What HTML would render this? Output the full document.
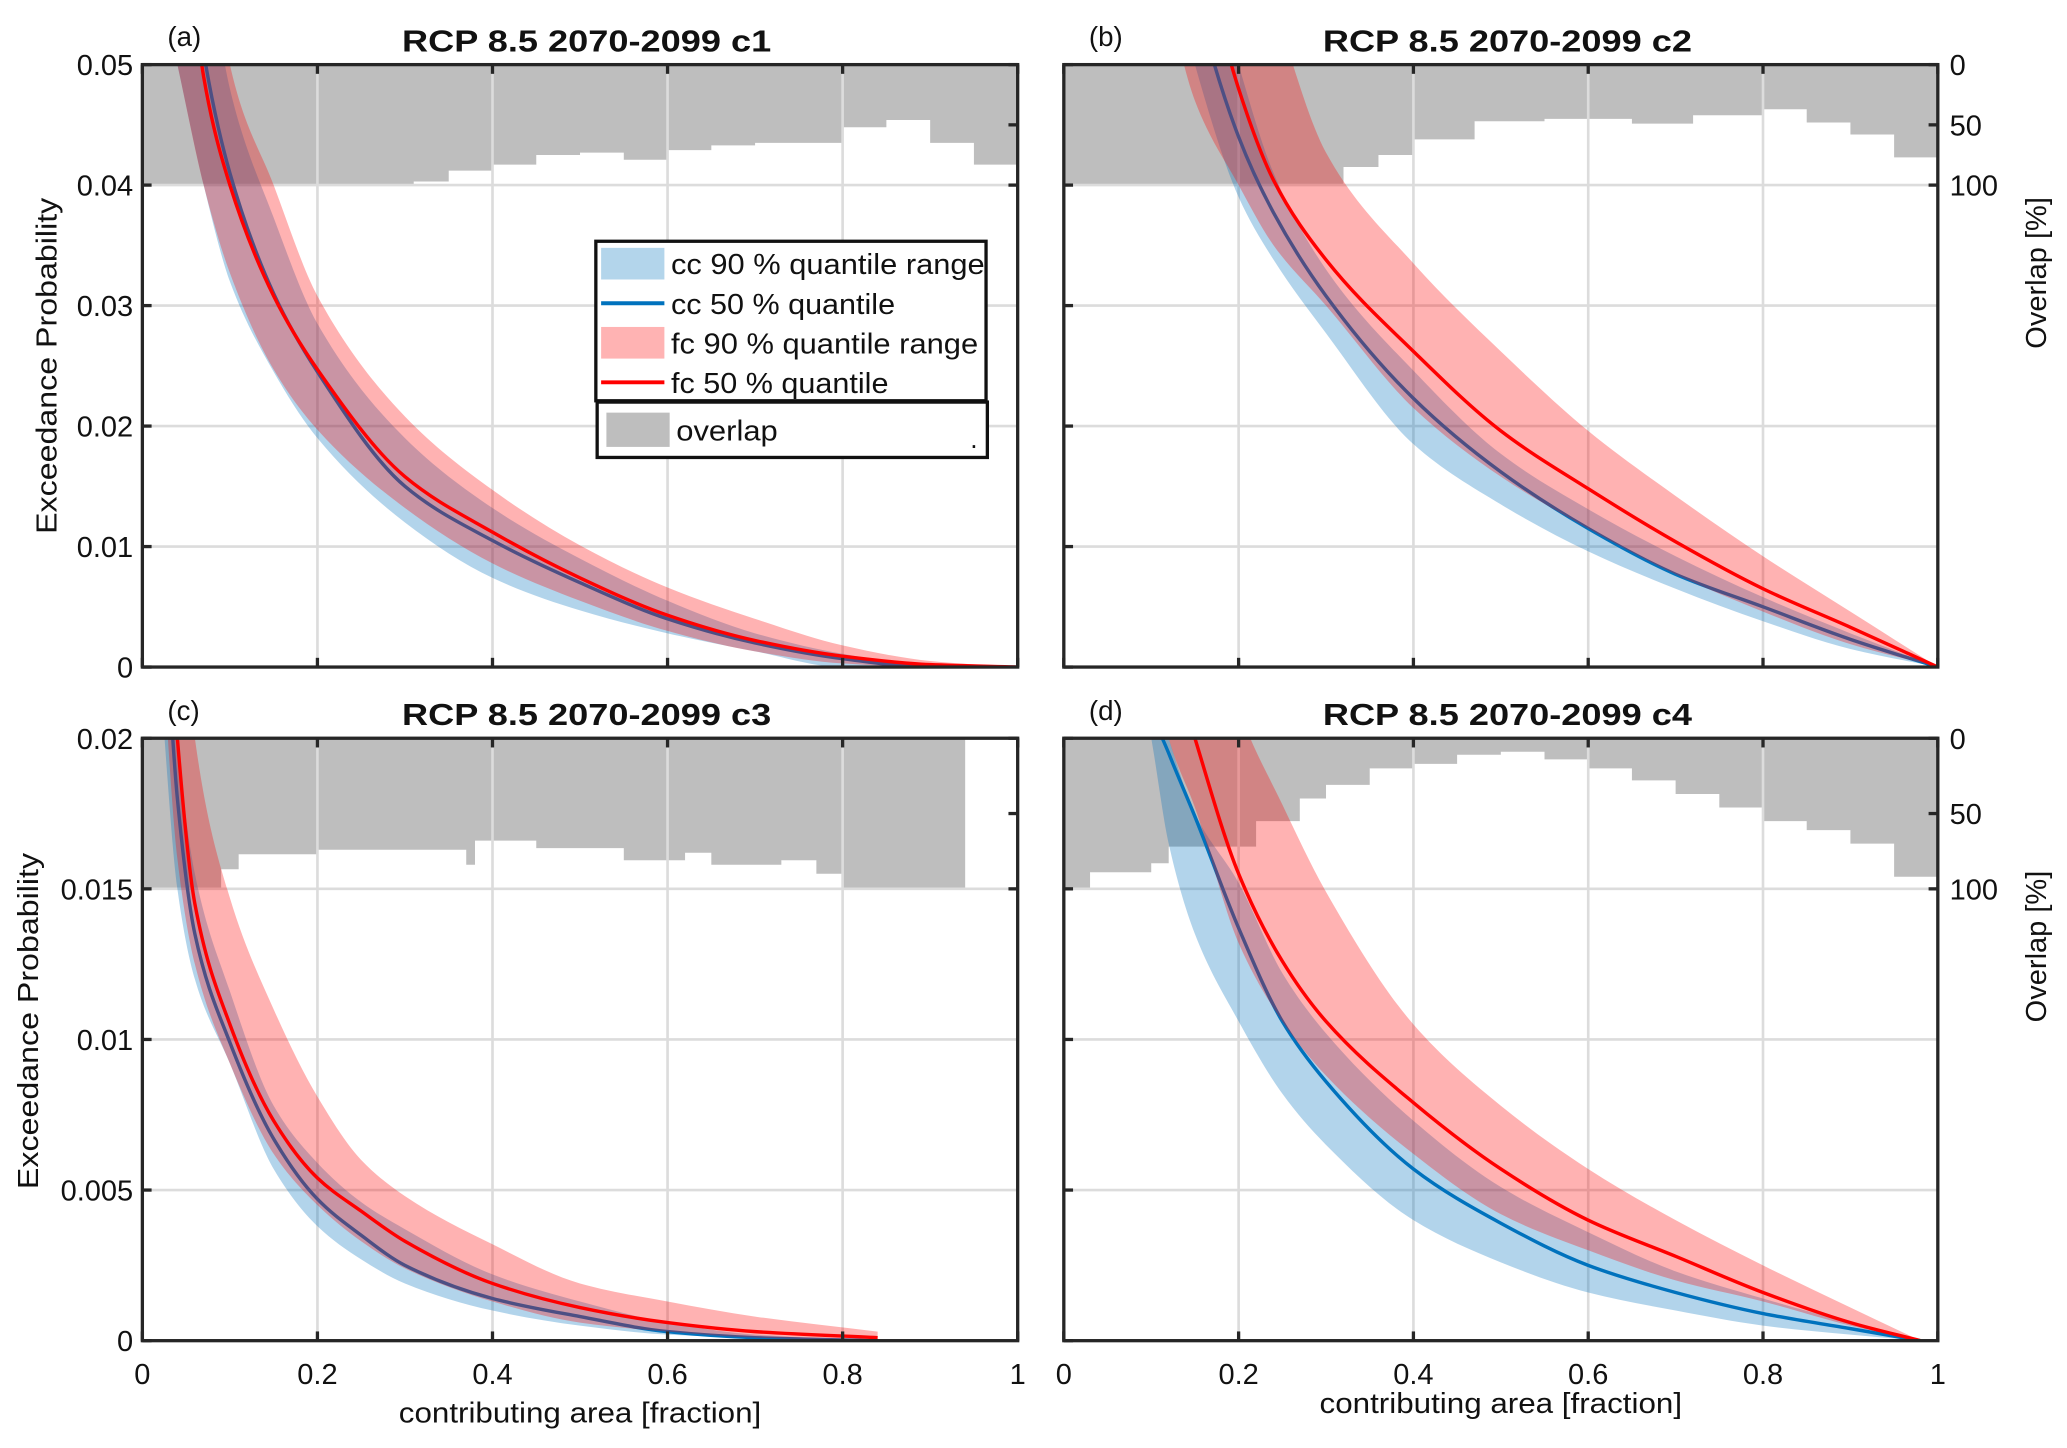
<!DOCTYPE html>
<html><head><meta charset="utf-8">
<style>
html,body{margin:0;padding:0;background:#fff;}
svg{display:block;}
text{font-family:"Liberation Sans",Arial,sans-serif;fill:#111;}
</style></head>
<body>
<svg id="fig" width="2067" height="1448" viewBox="0 0 1568 1098.4" xmlns="http://www.w3.org/2000/svg"></svg>
<script>
// ---------- Panel (a) data ----------
const aX      = [0.04,0.07,0.1,0.15,0.2,0.3,0.4,0.5,0.6,0.7,0.8,0.9,1.0];
const aFcMed  = [0.07,0.049,0.04,0.0308,0.0247,0.0158,0.0112,0.0074,0.0043,0.0022,0.0009,0.0002,0];
const aCcMed  = [0.07,0.051,0.041,0.031,0.0245,0.015,0.0105,0.007,0.004,0.002,0.0007,0,0];
const aFcUp   = [0.09,0.07,0.05,0.04,0.0308,0.0208,0.0147,0.0101,0.0066,0.004,0.0018,0.0005,0];
const aFcLo   = [0.05,0.04,0.0327,0.0247,0.0197,0.0132,0.0086,0.0055,0.003,0.0013,0.0003,0,0];
const aCcUp   = [0.08,0.062,0.048,0.0373,0.0285,0.019,0.0132,0.009,0.0055,0.0028,0.0011,0.0001,0];
const aCcLo   = [0.05,0.04,0.032,0.0245,0.019,0.012,0.0074,0.0047,0.0028,0.0013,0,0,0];
const aOvX    = [0,0.31,0.35,0.4,0.45,0.5,0.55,0.6,0.65,0.7,0.75,0.8,0.85,0.9,0.95,1.0];
const aOvPct  = [100,97,88,83,75,73,79,71,67,65,65,52,46,65,83,100];
// ---------- Panel (b) data ----------
const bX      = [0.1,0.15,0.2,0.24,0.3,0.4,0.5,0.6,0.7,0.8,0.9,1.0];
const bFcMed  = [0.08,0.062,0.048,0.0404,0.0338,0.0262,0.0196,0.0148,0.0104,0.0065,0.0033,0];
const bCcMed  = [0.075,0.056,0.044,0.0377,0.0308,0.0223,0.0162,0.0115,0.0077,0.005,0.0023,0];
const bFcUp   = [0.1,0.08,0.064,0.055,0.0427,0.0335,0.0262,0.0196,0.0142,0.0092,0.0046,0];
const bFcLo   = [0.062,0.047,0.04,0.035,0.03,0.0215,0.0158,0.0115,0.0077,0.0046,0.0019,0];
const bCcUp   = [0.085,0.064,0.05,0.041,0.033,0.0246,0.0177,0.0131,0.0092,0.0058,0.0028,0];
const bCcLo   = [0.065,0.05,0.039,0.0338,0.0277,0.0185,0.0135,0.0096,0.0065,0.0038,0.0015,0];
const bOvX    = [0,0.3,0.32,0.36,0.4,0.47,0.55,0.65,0.72,0.8,0.85,0.9,0.95,1.0];
const bOvPct  = [100,100,85,75,62,47,45,49,42,37,48,58,77,94];
// ---------- Panel (c) data ----------
const cX      = [0.02,0.04,0.06,0.1,0.15,0.2,0.25,0.3,0.4,0.5,0.6,0.7,0.84];
const cFcMed  = [0.03,0.02,0.0145,0.0105,0.0073,0.0054,0.0043,0.0033,0.0019,0.0011,0.0006,0.0003,0.0001];
const cCcMed  = [0.027,0.018,0.0135,0.0099,0.0067,0.0047,0.0035,0.0025,0.0014,0.0008,0.0003,0.0001,0];
const cFcUp   = [0.04,0.028,0.02,0.0147,0.011,0.0081,0.006,0.0048,0.0032,0.0019,0.0013,0.0008,0.0003];
const cFcLo   = [0.024,0.016,0.0125,0.0092,0.0062,0.0045,0.0033,0.0024,0.0013,0.0006,0.0003,0.0001,0];
const cCcUp   = [0.03,0.02,0.0155,0.0116,0.0078,0.0059,0.0046,0.0037,0.0022,0.0013,0.0006,0.0002,0];
const cCcLo   = [0.022,0.015,0.012,0.0092,0.0057,0.0038,0.0027,0.0019,0.001,0.0005,0.0002,0.0001,0];
const cOvX    = [0,0.09,0.11,0.2,0.35,0.37,0.38,0.45,0.55,0.62,0.65,0.73,0.77,0.8,0.94];
const cOvPct  = [100,87,77,74,74,84,68,73,81,76,84,81,90,100,100];
// ---------- Panel (d) data ----------
const dX      = [0.08,0.1,0.12,0.15,0.2,0.25,0.3,0.4,0.5,0.6,0.7,0.8,0.9,0.98];
const dFcMed  = [0.03,0.026,0.023,0.02,0.0155,0.0126,0.0106,0.0079,0.0057,0.004,0.0028,0.0016,0.0006,0];
const dCcMed  = [0.024,0.021,0.0195,0.0174,0.0137,0.0106,0.0086,0.0057,0.0039,0.0025,0.0016,0.0009,0.0004,0];
const dFcUp   = [0.04,0.035,0.031,0.027,0.021,0.0178,0.0149,0.0105,0.0078,0.0057,0.004,0.0025,0.0011,0];
const dFcLo   = [0.026,0.023,0.02,0.0177,0.0132,0.0106,0.0088,0.0062,0.0042,0.003,0.002,0.0013,0.0005,0];
const dCcUp   = [0.026,0.022,0.02,0.0175,0.0152,0.0122,0.0102,0.0073,0.0051,0.0036,0.0023,0.0014,0.0006,0];
const dCcLo   = [0.023,0.02,0.0165,0.0135,0.0106,0.0082,0.0065,0.004,0.0026,0.0016,0.001,0.0005,0.0002,0];
const dOvX    = [0,0.03,0.1,0.12,0.22,0.27,0.3,0.35,0.4,0.45,0.5,0.55,0.6,0.65,0.7,0.75,0.8,0.85,0.9,0.95,1.0];
const dOvPct  = [100,89,83,72,55,40,31,20,17,11,9,14,20,28,37,46,55,61,70,92,100];
// ---------- Tick labels ----------
const xTicks = [0,0.2,0.4,0.6,0.8,1];
const xTickLabels = ["0","0.2","0.4","0.6","0.8","1"];
const yTicksTop = [0,0.01,0.02,0.03,0.04,0.05];
const yTickLabelsTop = ["0","0.01","0.02","0.03","0.04","0.05"];
const yTicksBot = [0,0.005,0.01,0.015,0.02];
const yTickLabelsBot = ["0","0.005","0.01","0.015","0.02"];
const ovTicks = [0,50,100];
const ovTickLabels = ["0","50","100"];

const NS = "http://www.w3.org/2000/svg";
const svg = document.getElementById('fig');
function mk(tag, attrs, parent){
  const e = document.createElementNS(NS, tag);
  for (const k in attrs) e.setAttribute(k, attrs[k]);
  (parent||svg).appendChild(e);
  return e;
}
// monotone cubic (Fritsch-Carlson) path through points
function monoPath(pts, moveFirst){
  const n = pts.length;
  let s = (moveFirst ? 'M' : ' L') + pts[0][0] + ',' + pts[0][1];
  if (n < 2) return s;
  const dx = [], m = [], t = [];
  for (let i=0;i<n-1;i++){ dx[i]=pts[i+1][0]-pts[i][0]; m[i]=(pts[i+1][1]-pts[i][1])/dx[i]; }
  t[0]=m[0]; t[n-1]=m[n-2];
  for (let i=1;i<n-1;i++){
    if (m[i-1]*m[i] <= 0) t[i]=0;
    else { const w1=2*dx[i]+dx[i-1], w2=dx[i]+2*dx[i-1]; t[i]=(w1+w2)/(w1/m[i-1]+w2/m[i]); }
  }
  for (let i=0;i<n-1;i++){
    const h = dx[i]/3;
    s += ` C${pts[i][0]+h},${pts[i][1]+t[i]*h} ${pts[i+1][0]-h},${pts[i+1][1]-t[i+1]*h} ${pts[i+1][0]},${pts[i+1][1]}`;
  }
  return s;
}

const panels = [
  {id:'a', L:108, R:772, T:49, B:506, ymax:0.05, band:0.04, x:aX, fm:aFcMed, cm:aCcMed, fu:aFcUp, fl:aFcLo, cu:aCcUp, cl:aCcLo, ox:aOvX, op:aOvPct, yt:yTicksTop, ytl:yTickLabelsTop, showY:true, showX:false, showR:false, title:"RCP 8.5 2070-2099 c1"},
  {id:'b', L:807, R:1470, T:49, B:506, ymax:0.05, band:0.04, x:bX, fm:bFcMed, cm:bCcMed, fu:bFcUp, fl:bFcLo, cu:bCcUp, cl:bCcLo, ox:bOvX, op:bOvPct, yt:yTicksTop, ytl:yTickLabelsTop, showY:false, showX:false, showR:true, title:"RCP 8.5 2070-2099 c2"},
  {id:'c', L:108, R:772, T:560, B:1017, ymax:0.02, band:0.015, x:cX, fm:cFcMed, cm:cCcMed, fu:cFcUp, fl:cFcLo, cu:cCcUp, cl:cCcLo, ox:cOvX, op:cOvPct, yt:yTicksBot, ytl:yTickLabelsBot, showY:true, showX:true, showR:false, title:"RCP 8.5 2070-2099 c3"},
  {id:'d', L:807, R:1470, T:560, B:1017, ymax:0.02, band:0.015, x:dX, fm:dFcMed, cm:dCcMed, fu:dFcUp, fl:dFcLo, cu:dCcUp, cl:dCcLo, ox:dOvX, op:dOvPct, yt:yTicksBot, ytl:yTickLabelsBot, showY:false, showX:true, showR:true, title:"RCP 8.5 2070-2099 c4"}
];

panels.forEach(p => {
  const sx = v => p.L + v*(p.R-p.L);
  const sy = v => p.B - v/p.ymax*(p.B-p.T);
  const bandB = sy(p.band);
  const so = pct => p.T + pct/100*(bandB - p.T);

  const g = mk('g', {});
  
  

  const cp = mk('clipPath', {id:'clip-'+p.id}, g);
  mk('rect', {x:p.L, y:p.T, width:p.R-p.L, height:p.B-p.T}, cp);

  // overlap area
  let d = `M${sx(p.ox[0])},${p.T}`;
  for (let i=0;i<p.ox.length;i++){
    const y = so(p.op[i]);
    d += ` L${sx(p.ox[i])},${y}`;
    if (i < p.ox.length-1) d += ` L${sx(p.ox[i+1])},${y}`;
  }
  d += ` L${sx(p.ox[p.ox.length-1])},${p.T} Z`;
  const ov = mk('path', {d:d, fill:'#bebebe', stroke:'none'}, g);
  
  

  // grid
  const grid = mk('g', {stroke:'#dcdcdc', 'stroke-width':2}, g);
  
  
  xTicks.forEach(t => { if (t>0 && t<1) mk('line', {x1:sx(t), x2:sx(t), y1:p.T, y2:p.B}, grid); });
  p.yt.forEach(t => { if (t>0 && t<p.ymax) mk('line', {x1:p.L, x2:p.R, y1:sy(t), y2:sy(t)}, grid); });

  const data = mk('g', {'clip-path':`url(#clip-${p.id})`}, g);
  function bandPath(up, lo){
    const top = p.x.map((xv,i)=>[sx(xv), sy(up[i])]);
    const bot = p.x.map((xv,i)=>[sx(xv), sy(lo[i])]).reverse();
    return monoPath(top, true) + monoPath(bot, false) + ' Z';
  }
  function linePath(v){
    return monoPath(p.x.map((xv,i)=>[sx(xv), sy(v[i])]), true);
  }
  const cb = mk('path', {d:bandPath(p.cu,p.cl), fill:'rgb(0,114,189)', 'fill-opacity':0.3}, data);
  
  
  const cl = mk('path', {d:linePath(p.cm), fill:'none', stroke:'#0072BD', 'stroke-width':2.6, 'stroke-linejoin':'round'}, data);
  
  
  const fb = mk('path', {d:bandPath(p.fu,p.fl), fill:'rgb(255,0,0)', 'fill-opacity':0.3}, data);
  
  
  const fl = mk('path', {d:linePath(p.fm), fill:'none', stroke:'#FF0000', 'stroke-width':2.6, 'stroke-linejoin':'round'}, data);
  
  

  // axes box
  const box = mk('rect', {x:p.L, y:p.T, width:p.R-p.L, height:p.B-p.T, fill:'none', stroke:'#262626', 'stroke-width':2.5}, g);
  
  
  const tk = mk('g', {stroke:'#262626', 'stroke-width':2.5}, g);
  xTicks.forEach(t => {
    mk('line', {x1:sx(t), x2:sx(t), y1:p.B, y2:p.B-7}, tk);
    mk('line', {x1:sx(t), x2:sx(t), y1:p.T, y2:p.T+7}, tk);
  });
  p.yt.forEach(t => mk('line', {x1:p.L, x2:p.L+7, y1:sy(t), y2:sy(t)}, tk));
  ovTicks.forEach(t => mk('line', {x1:p.R, x2:p.R-7, y1:so(t), y2:so(t)}, tk));

  if (p.showY){
    p.yt.forEach((t,i) => {
      const tx = mk('text', {x:p.L-7, y:sy(t)+8, 'text-anchor':'end', 'font-size':22}, g);
      tx.textContent = p.ytl[i];
      
      
    });
    const cy = (p.T+p.B)/2 - (p.id==='a' ? 0 : 14);
    const lx = p.id==='a' ? 43 : 29;
    const yl = mk('text', {x:lx, y:cy, transform:`rotate(-90 ${lx} ${cy})`, 'text-anchor':'middle', 'font-size':22, textLength:255, lengthAdjust:'spacingAndGlyphs'}, g);
    yl.textContent = 'Exceedance Probability';
    
    
  }
  if (p.showX){
    xTicks.forEach((t,i) => {
      const tx = mk('text', {x:sx(t), y:p.B+33, 'text-anchor':'middle', 'font-size':22}, g);
      tx.textContent = xTickLabels[i];
      
      
    });
    const xl = mk('text', {x:(p.L+p.R)/2, y:p.id==='c' ? p.B+62 : p.B+55, 'text-anchor':'middle', 'font-size':22, textLength:275, lengthAdjust:'spacingAndGlyphs'}, g);
    xl.textContent = 'contributing area [fraction]';
    
    
  }
  if (p.showR){
    ovTicks.forEach((t,i) => {
      const tx = mk('text', {x:p.R+9, y:so(t)+8, 'text-anchor':'start', 'font-size':22}, g);
      tx.textContent = ovTickLabels[i];
      
      
    });
    const cy = p.T + 158;
    const rx = 1552;
    const rl = mk('text', {x:rx, y:cy, transform:`rotate(-90 ${rx} ${cy})`, 'text-anchor':'middle', 'font-size':22, textLength:115, lengthAdjust:'spacingAndGlyphs'}, g);
    rl.textContent = 'Overlap [%]';
    
    
  }
  const tt = mk('text', {x:(p.L+p.R)/2+5, y:p.T-10, 'text-anchor':'middle', 'font-size':23, 'font-weight':'bold', textLength:280, lengthAdjust:'spacingAndGlyphs'}, g);
  tt.textContent = p.title;
  
  
  const pl = mk('text', {x:p.L+19, y:p.T-14, 'text-anchor':'start', 'font-size':21}, g);
  pl.textContent = '(' + p.id + ')';
  
  
});

// ---------- Legend ----------
const lg = mk('g', {});


mk('rect', {x:452, y:183, width:296, height:121, fill:'#fff', stroke:'#111', 'stroke-width':2.5}, lg);
mk('rect', {x:453, y:305, width:296, height:42, fill:'#fff', stroke:'#111', 'stroke-width':2.5}, lg);
const legEntries = [
  {t:'cc 90 % quantile range', kind:'patch', c:'rgb(179,213,235)', y:200, w:238},
  {t:'cc 50 % quantile', kind:'line', c:'#0072BD', y:230, w:170},
  {t:'fc 90 % quantile range', kind:'patch', c:'rgb(255,179,179)', y:260, w:233},
  {t:'fc 50 % quantile', kind:'line', c:'#FF0000', y:290, w:165}
];
legEntries.forEach(e => {
  const eg = mk('g', {}, lg);
  
  
  if (e.kind==='patch') mk('rect', {x:456, y:e.y-12, width:48, height:24, fill:e.c}, eg);
  else mk('line', {x1:456, x2:504, y1:e.y, y2:e.y, stroke:e.c, 'stroke-width':3}, eg);
  const t = mk('text', {x:509, y:e.y+8, 'font-size':22, textLength:e.w, lengthAdjust:'spacingAndGlyphs'}, eg);
  t.textContent = e.t;
});
const og = mk('g', {}, lg);


mk('rect', {x:460, y:313, width:48, height:26, fill:'#bebebe'}, og);
const ot = mk('text', {x:513, y:334, 'font-size':22, textLength:77, lengthAdjust:'spacingAndGlyphs'}, og);
ot.textContent = 'overlap';
const od = mk('text', {x:736, y:340, 'font-size':20}, og);
od.textContent = '.';
</script>
</body></html>
